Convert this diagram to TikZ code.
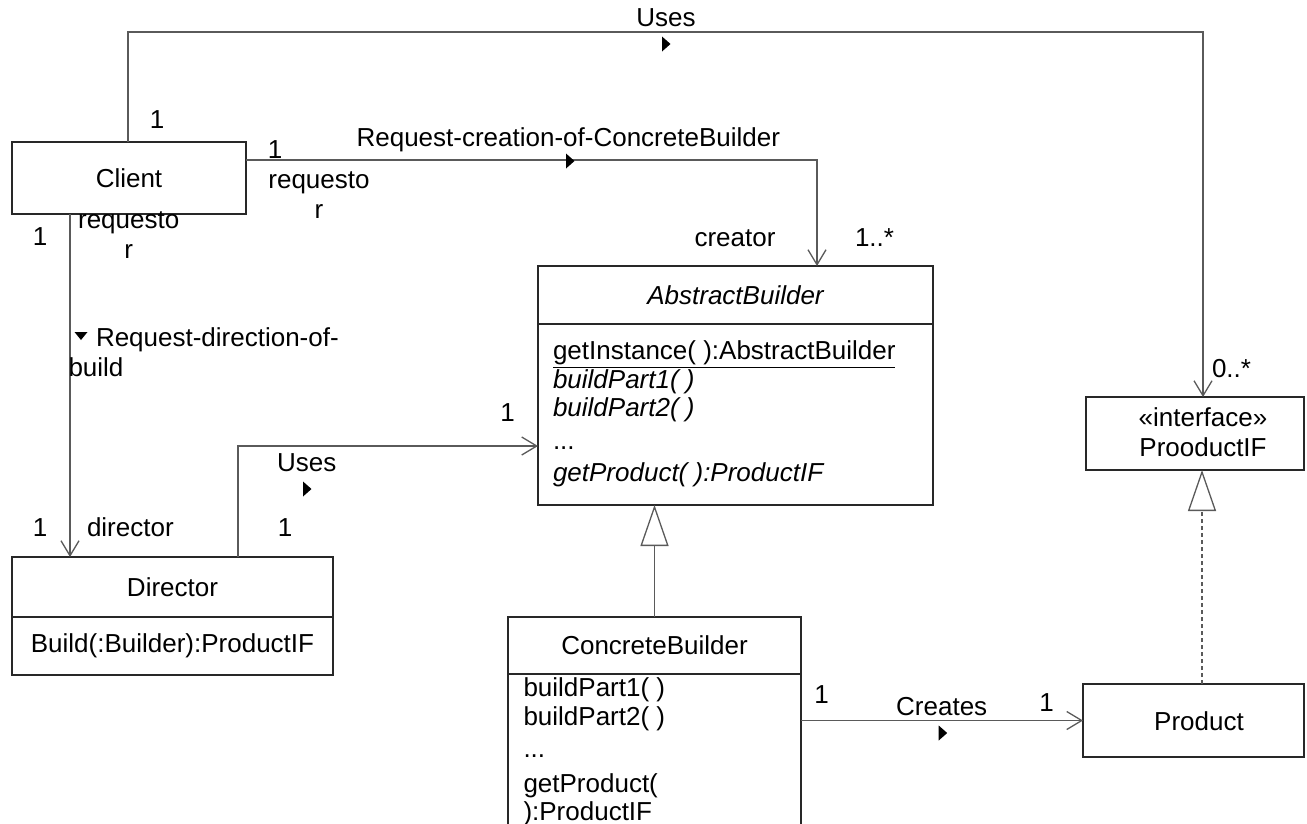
\documentclass[tikz,border=0pt]{standalone}
\usepackage{fontspec}
\setmainfont{Liberation Sans}
\usetikzlibrary{arrows.meta}
\definecolor{linegray}{RGB}{90,90,90}
\definecolor{boxline}{RGB}{40,40,40}
\newcommand\diagfont{\fontsize{26pt}{30pt}\selectfont}
\newcommand\listfont{\fontsize{26pt}{28.5pt}\selectfont}

\begin{document}
\begin{tikzpicture}[x=1pt,y=-1pt,
  box/.style={draw=boxline, line width=1.3pt, inner sep=0pt, outer sep=0pt, anchor=north west, font=\diagfont},
  lbl/.style={inner sep=0pt, outer sep=0pt, font=\diagfont},
  conn/.style={draw=linegray, line width=1.3pt},
  navarrow/.style={-{Straight Barb[length=15pt,width=18pt]}},
  inherit/.style={-{Triangle[length=41pt,width=28pt,fill=white]}},
  realize/.style={dash pattern=on 4pt off 3pt},
  rmark/.pic={\fill (-4,-7.5) -- (4.5,0) -- (-4,7.5) -- cycle;},
  dmark/.pic={\fill (-6.5,-4) -- (6.5,-4) -- (0,4) -- cycle;},
]
\useasboundingbox (0,0) rectangle (1307,823);
\clip (0,0) rectangle (1307,823);

% ---- classes ----
\node[box, minimum width=234pt, minimum height=72pt] (client) at (12,142) {Client};

\node[box, minimum width=321pt, minimum height=60pt] (director) at (12,557) {Director};
\node[box, minimum width=321pt, minimum height=58pt] (directorops) at (12,617) {Build(:Builder):ProductIF};

\node[box, minimum width=395pt, minimum height=58pt] (ab) at (538,266) {\itshape AbstractBuilder};
\node[box, minimum width=395pt, minimum height=181pt] (abops) at (538,324) {};
\node[lbl, anchor=north west, align=left, font=\listfont] (abopstext) at (553,340)
  {\strut\underline{getInstance( ):AbstractBuilder}\\
   \textit{buildPart1( )}\\
   \textit{buildPart2( )}\\[4pt]
   ...\\[4pt]
   \textit{getProduct( ):ProductIF}};

\node[box, minimum width=293pt, minimum height=57pt] (cb) at (508,617) {ConcreteBuilder};
\node[box, minimum width=293pt, minimum height=226pt] (cbops) at (508,674) {};
\node[lbl, anchor=north west, align=left, font=\listfont] (cbopstext) at (523.5,677)
  {\strut buildPart1( )\\
   buildPart2( )\\[4pt]
   ...\\[6pt]
   getProduct(\\
   ):ProductIF};

\node[box, minimum width=218pt, minimum height=73pt] (iface) at (1086,397) {};
\node[lbl, anchor=north, align=center] (ifacetext) at (1203,405.7) {\strut «interface»\\ProoductIF};

\node[box, minimum width=221pt, minimum height=73pt] (product) at (1083,684) {};
\node[lbl, anchor=base] (producttext) at (1199,730) {Product};

% ---- associations ----
\coordinate (usesL) at (128,32);
\coordinate (usesR) at (1203,32);
\draw[conn, navarrow] (client.north -| usesL) -- (usesL) -- (usesR) -- (usesR |- iface.north);

\coordinate (reqC) at (817,160);
\draw[conn, navarrow] (client.east |- reqC) -- (reqC) -- (reqC |- ab.north);

\coordinate (reqD) at (70,0);
\draw[conn, navarrow] (client.south -| reqD) -- (director.north -| reqD);

\coordinate (dirU) at (238,446);
\draw[conn, navarrow] (director.north -| dirU) -- (dirU) -- (dirU -| abops.west);

\draw[conn, navarrow] (cbops.east |- product.west) -- (product.west);

% ---- generalization and realization ----
\draw[conn, inherit] (cb.north) -- (cb.north |- abops.south);
\coordinate (realX) at (1202,0);
\draw[conn, realize, inherit] (product.north -| realX) -- (iface.south -| realX);

% ---- association labels ----
\node[lbl, anchor=base] (m1) at (157,128) {1};
\node[lbl, anchor=base] (usesTop) at (666,26.7) {Uses};
\pic at (666,44) {rmark};
\node[lbl, anchor=base west] (m2) at (1212,377) {0..*};

\node[lbl, anchor=base] (m3) at (275,158.5) {1};
\node[lbl, anchor=base east] (reqlabel) at (780,146.7) {Request-creation-of-ConcreteBuilder};
\pic at (570,161) {rmark};
\node[lbl, anchor=north, align=center] (roleA) at (319,167.3) {\strut requesto\\r};
\node[lbl, anchor=base] (creator) at (735,246.7) {creator};
\node[lbl, anchor=base west] (m4) at (855,246.7) {1..*};

\node[lbl, anchor=north, align=center] (roleB) at (128.7,207.3) {\strut requesto\\r};
\node[lbl, anchor=base] (m5) at (40,245) {1};
\pic at (81,336) {dmark};
\node[lbl, anchor=north west, align=left] (dirlabel) at (68.5,325.7)
  {\strut\hspace*{27.5pt}Request-direction-of-\\build};
\node[lbl, anchor=base] (m6) at (40,536.7) {1};
\node[lbl, anchor=base west] (roleC) at (87,536.7) {director};

\node[lbl, anchor=base] (usesD) at (306.7,471.7) {Uses};
\pic at (307,489) {rmark};
\node[lbl, anchor=base] (m7) at (285,536.7) {1};
\node[lbl, anchor=base] (m8) at (507.5,421.7) {1};

\node[lbl, anchor=base] (m9) at (821.7,703.3) {1};
\node[lbl, anchor=base] (creates) at (941.7,715) {Creates};
\pic at (942.7,733) {rmark};
\node[lbl, anchor=base] (m10) at (1046.7,711.7) {1};
\end{tikzpicture}
\end{document}
